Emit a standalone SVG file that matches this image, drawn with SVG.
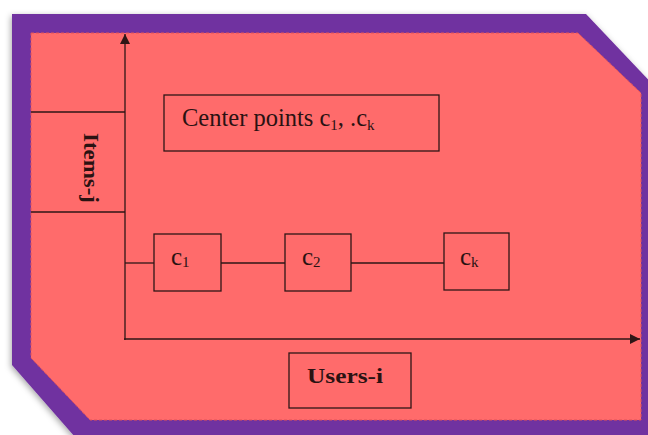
<svg xmlns="http://www.w3.org/2000/svg" width="648" height="435" viewBox="0 0 648 435">
  <style>
    .ln { stroke: #2e1616; stroke-width: 1.3; fill: none; }
    .box { stroke: #2e1616; stroke-width: 1.3; fill: none; }
    .lbl { font-family: "Liberation Serif", "Times New Roman", serif; fill: #2a1212; }
    .bold { font-weight: bold; }
  </style>
  <defs>
    <filter id="shadow" x="-5%" y="-5%" width="110%" height="110%">
      <feDropShadow dx="-1" dy="2" stdDeviation="3" flood-color="#000" flood-opacity="0.35"/>
    </filter>
    <marker id="arrow" viewBox="0 0 10 10" refX="10" refY="5" markerWidth="10" markerHeight="10" markerUnits="userSpaceOnUse" orient="auto">
      <path d="M0,0 L10,5 L0,10 Z" fill="#2e1616"/>
    </marker>
  </defs>
  <rect width="648" height="435" fill="#ffffff"/>
  <g id="frame">
    <path d="M12,14 L586,14 L660,92 L660,445 L82,445 L12,365 Z" fill="#7030a0" filter="url(#shadow)"/>
    <path d="M31,33 L578,33 L641,93 L641,420 L90,420 L31,358 Z" fill="#ff6b6b" stroke="#e05258" stroke-width="1" stroke-dasharray="3 2"/>
  </g>
  <g id="connectors">
    <line class="ln" x1="125" y1="340" x2="125" y2="34" marker-end="url(#arrow)"/>
    <line class="ln" x1="124" y1="339" x2="640" y2="339" marker-end="url(#arrow)"/>
    <line class="ln" x1="125" y1="263" x2="154" y2="263"/>
    <line class="ln" x1="221" y1="263" x2="285" y2="263"/>
    <line class="ln" x1="351" y1="263" x2="444" y2="263"/>
  </g>
  <g id="items-j">
    <line class="ln" x1="31" y1="112" x2="125" y2="112"/>
    <line class="ln" x1="31" y1="212" x2="125" y2="212"/>
    <text class="lbl bold" font-size="21" transform="translate(84,133) rotate(90)" textLength="70" lengthAdjust="spacingAndGlyphs">Items-j</text>
  </g>
  <g id="center-points">
    <rect class="box" x="164" y="95" width="275" height="56"/>
    <text class="lbl" x="182" y="126" font-size="24.5">Center points c<tspan font-size="15" dy="4">1</tspan><tspan dy="-4">, .c</tspan><tspan font-size="15" dy="4">k</tspan></text>
  </g>
  <g id="c1">
    <rect class="box" x="154" y="234" width="67" height="57"/>
    <text class="lbl" x="171" y="265" font-size="25">c<tspan font-size="15" dy="2">1</tspan></text>
  </g>
  <g id="c2">
    <rect class="box" x="285" y="234" width="66" height="57"/>
    <text class="lbl" x="302" y="265" font-size="25">c<tspan font-size="15" dy="2">2</tspan></text>
  </g>
  <g id="ck">
    <rect class="box" x="444" y="233" width="65" height="57"/>
    <text class="lbl" x="460" y="265" font-size="25">c<tspan font-size="15" dy="2">k</tspan></text>
  </g>
  <g id="users-i">
    <rect class="box" x="289" y="353" width="122" height="55"/>
    <text class="lbl bold" x="307" y="383" font-size="22" textLength="76" lengthAdjust="spacingAndGlyphs">Users-i</text>
  </g>
</svg>
